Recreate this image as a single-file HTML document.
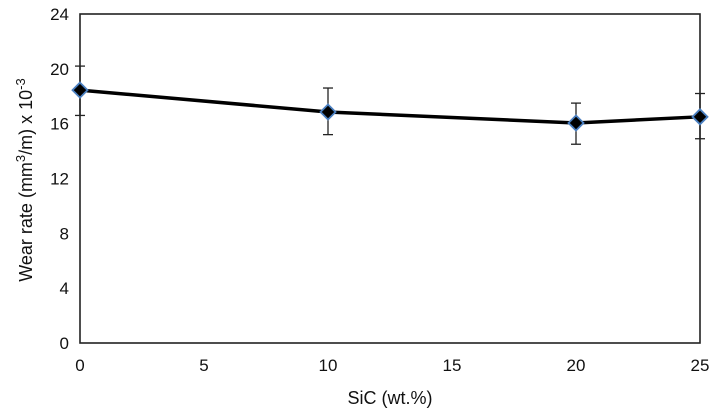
<!DOCTYPE html>
<html><head><meta charset="utf-8"><style>
body{margin:0;background:#fff;}
svg text{font-family:"Liberation Sans",Arial,sans-serif;fill:#111;}
</style></head><body>
<svg id="c" width="715" height="414"></svg>
<script>
const categories=[0,10,20,25];
const wearRate=[18.45,16.85,16.05,16.5];
const errLow=[16.6,15.2,14.5,14.9];
const errHigh=[20.2,18.6,17.5,18.2];
const yTicks=[0,4,8,12,16,20,24];
const xTicks=[0,5,10,15,20,25];
const L=80,R=700,T=14,B=343;
const sx=v=>L+(v-0)/25*(R-L);
const sy=v=>B-v/24*(B-T);
const svg=document.getElementById('c');
const NS='http://www.w3.org/2000/svg';
function mk(t,a,p){const e=document.createElementNS(NS,t);for(const k in a)e.setAttribute(k,a[k]);(p||svg).appendChild(e);return e;}
let fr=mk('rect',{x:L,y:T,width:R-L,height:B-T,fill:'none',stroke:'#222','stroke-width':1.6});


yTicks.forEach(v=>{
 let t=mk('text',{x:L-11,y:sy(v)+6,'text-anchor':'end','font-size':17});t.textContent=v;
 
 
});
xTicks.forEach(v=>{
 let t=mk('text',{x:sx(v),y:371,'text-anchor':'middle','font-size':17});t.textContent=v;
 
 
});
let xt=mk('text',{x:390,y:404,'text-anchor':'middle','font-size':18});xt.textContent='SiC (wt.%)';


let yt=mk('text',{x:0,y:0,'text-anchor':'middle','font-size':18,transform:'translate(32,180) rotate(-90)'});
yt.innerHTML='Wear rate (mm<tspan dy="-7" font-size="13">3</tspan><tspan dy="7">/m) x 10</tspan><tspan dy="-7" font-size="13">-3</tspan>';


categories.forEach((c,i)=>{
 const x=sx(c);
 const g=mk('g',{stroke:'#222','stroke-width':1.3});
 
 
 mk('line',{x1:x,x2:x,y1:sy(errLow[i]),y2:sy(errHigh[i])},g);
 mk('line',{x1:x-5,x2:x+5,y1:sy(errLow[i]),y2:sy(errLow[i])},g);
 mk('line',{x1:x-5,x2:x+5,y1:sy(errHigh[i]),y2:sy(errHigh[i])},g);
});
let ln=mk('polyline',{points:categories.map((c,i)=>sx(c)+','+sy(wearRate[i])).join(' '),fill:'none',stroke:'#000','stroke-width':3.5});


categories.forEach((c,i)=>{
 const x=sx(c),y=sy(wearRate[i]),s=7.5;
 let p=mk('polygon',{points:`${x},${y-s} ${x+s},${y} ${x},${y+s} ${x-s},${y}`,fill:'#000',stroke:'#4a7fc0','stroke-width':1.8});
 
 
});
</script>
</body></html>
